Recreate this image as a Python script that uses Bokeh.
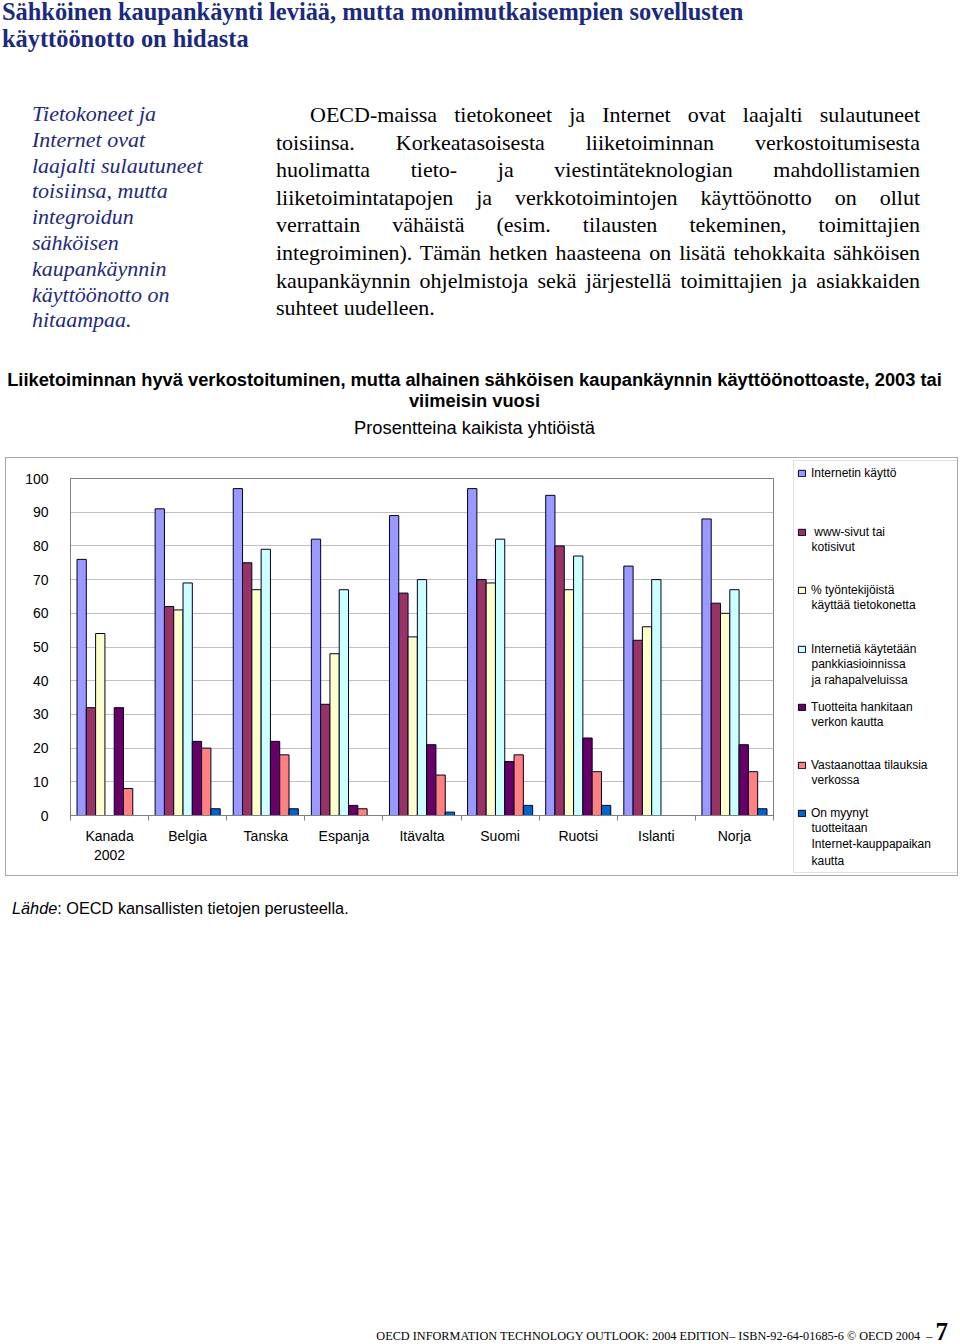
from bokeh.plotting import figure
from bokeh.models import (ColumnDataSource, Legend, LegendItem, FixedTicker, Div, Range1d,
                          Label, BoxAnnotation)
from bokeh.layouts import column, row
from bokeh.transform import dodge
from bokeh.embed import file_html
from bokeh.resources import INLINE

# ---------------- data ----------------
countries = ["Kanada\n2002", "Belgia", "Tanska", "Espanja", "Itävalta",
             "Suomi", "Ruotsi", "Islanti", "Norja"]
series_names = [
    ["Internetin käyttö"],
    [" www-sivut tai", "kotisivut"],
    ["% työntekijöistä", "käyttää tietokonetta"],
    ["Internetiä käytetään", "pankkiasioinnissa", "ja rahapalveluissa"],
    ["Tuotteita hankitaan", "verkon kautta"],
    ["Vastaanottaa tilauksia", "verkossa"],
    ["On myynyt", "tuotteitaan", "Internet-kauppapaikan", "kautta"],
]
internet_use = [76, 91, 97, 82, 89, 97, 95, 74, 88]
web_pages = [32, 62, 75, 33, 66, 70, 80, 52, 63]
employees_pc = [54, 61, 67, 48, 53, 69, 67, 56, 60]
banking = [None, 69, 79, 67, 70, 82, 77, 70, 67]
purchases = [32, 22, 22, 3, 21, 16, 23, None, 21]
orders = [8, 20, 18, 2, 12, 18, 13, None, 13]
sold_marketplace = [None, 2, 2, None, 1, 3, 3, None, 2]
series_values = [internet_use, web_pages, employees_pc, banking,
                 purchases, orders, sold_marketplace]
colors = ["#9999FF", "#993366", "#FFFFCC", "#CCFFFF", "#660066", "#FF8080", "#0066CC"]
y_ticks = list(range(0, 101, 10))

title_lines = ["Sähköinen kaupankäynti leviää, mutta monimutkaisempien sovellusten",
               "käyttöönotto on hidasta"]
side_lines = ["Tietokoneet ja", "Internet ovat", "laajalti sulautuneet", "toisiinsa, mutta",
              "integroidun", "sähköisen", "kaupankäynnin", "käyttöönotto on", "hitaampaa."]
body_lines = [
    "OECD-maissa tietokoneet ja Internet ovat laajalti sulautuneet",
    "toisiinsa. Korkeatasoisesta liiketoiminnan verkostoitumisesta",
    "huolimatta tieto- ja viestintäteknologian mahdollistamien",
    "liiketoimintatapojen ja verkkotoimintojen käyttöönotto on ollut",
    "verrattain vähäistä (esim. tilausten tekeminen, toimittajien",
    "integroiminen). Tämän hetken haasteena on lisätä tehokkaita sähköisen",
    "kaupankäynnin ohjelmistoja sekä järjestellä toimittajien ja asiakkaiden",
    "suhteet uudelleen.",
]
chart_title = ["Liiketoiminnan hyvä verkostoituminen, mutta alhainen sähköisen kaupankäynnin käyttöönottoaste, 2003 tai",
               "viimeisin vuosi"]
chart_subtitle = "Prosentteina kaikista yhtiöistä"

# ---------------- header (page text) ----------------
serif = "'Liberation Serif', 'Times New Roman', serif"
sans = "'Liberation Sans', Arial, sans-serif"
body_html = ""
for i, ln in enumerate(body_lines):
    last = i == len(body_lines) - 1
    align = "left" if last else "justify"
    indent = "padding-left:34px;" if i == 0 else ""
    body_html += (f'<div style="text-align:{align};text-align-last:{align};{indent}'
                  f'height:27.6px;line-height:27.6px;">{ln}</div>')

title_style = (f"position:absolute;left:2px;font-family:{serif};font-weight:bold;"
               f"font-size:24.4px;line-height:24px;color:#1b2a7e;white-space:nowrap;")
header_html = f'''
<div style="position:relative;left:0px;top:0px;width:958px;height:457px;">
 <div style="{title_style}top:0px;">{title_lines[0]}</div>
 <div style="{title_style}top:27px;">{title_lines[1]}</div>
 <div style="position:absolute;left:32px;top:101px;font-family:{serif};font-style:italic;
      font-size:22px;line-height:25.8px;color:#1f2a78;white-space:nowrap;">{"<br>".join(side_lines)}</div>
 <div style="position:absolute;left:276px;top:101px;width:644px;font-family:{serif};
      font-size:22px;color:#000;">{body_html}</div>
 <div style="position:absolute;left:0px;top:369px;width:949px;text-align:center;font-family:{sans};
      font-weight:bold;font-size:18.3px;line-height:21px;color:#000;white-space:nowrap;">{chart_title[0]}<br>{chart_title[1]}</div>
 <div style="position:absolute;left:0px;top:418px;width:949px;text-align:center;font-family:{sans};
      font-size:18.3px;line-height:20px;color:#000;">{chart_subtitle}</div>
</div>'''
header = Div(text=header_html, width=958, height=457, margin=0)

# ---------------- chart ----------------
n = len(countries)
box_border = "1px solid #a8a8a8"
p = figure(width=778, height=419, x_range=Range1d(-0.5, n - 0.5), y_range=Range1d(0, 100),
           output_backend="svg", toolbar_location=None,
           min_border_left=64, min_border_right=11, min_border_top=20, min_border_bottom=62,
           outline_line_color="#808080", margin=(0, 0, 0, 5),
           styles={"border-left": box_border, "border-top": box_border,
                   "border-bottom": box_border, "box-sizing": "border-box"})

bar_w = 0.119
sources = []
for j, (vals, col) in enumerate(zip(series_values, colors)):
    xs = [i for i, v in enumerate(vals) if v is not None]
    ys = [v for v in vals if v is not None]
    src = ColumnDataSource(dict(x=xs, top=ys))
    sources.append(src)
    p.vbar(x=dodge("x", (j - 3) * bar_w, range=p.x_range), top="top", bottom=0,
           width=bar_w, source=src, fill_color=col, line_color="#000022", line_width=1)

p.ygrid.grid_line_color = "#c0c0c0"
p.xgrid.grid_line_color = None

p.yaxis.ticker = FixedTicker(ticks=y_ticks)
p.yaxis.axis_line_color = "#808080"
p.yaxis.major_tick_line_color = None
p.yaxis.minor_tick_line_color = None
p.yaxis.major_tick_out = 0
p.yaxis.major_tick_in = 0
p.yaxis.major_label_standoff = 22
p.yaxis.major_label_text_font = "Liberation Sans"
p.yaxis.major_label_text_font_size = "14px"
p.yaxis.major_label_text_color = "#000000"

p.xaxis.ticker = FixedTicker(ticks=list(range(n)), minor_ticks=[i - 0.5 for i in range(n + 1)])
p.xaxis.major_label_overrides = {i: c for i, c in enumerate(countries)}
p.xaxis.axis_line_color = "#808080"
p.xaxis.major_tick_line_color = None
p.xaxis.major_tick_out = 0
p.xaxis.major_tick_in = 0
p.xaxis.minor_tick_line_color = "#808080"
p.xaxis.minor_tick_out = 5
p.xaxis.minor_tick_in = 0
p.xaxis.major_label_standoff = 7
p.xaxis.major_label_text_font = "Liberation Sans"
p.xaxis.major_label_text_font_size = "14px"
p.xaxis.major_label_text_color = "#000000"

# ---------------- legend panel (its own figure, right part of the chart box) ----------------
lw, lh = 175, 419
leg = figure(width=lw, height=lh, x_range=Range1d(0, lw), y_range=Range1d(0, lh),
             x_axis_type=None, y_axis_type=None, output_backend="svg", toolbar_location=None,
             min_border=0, min_border_left=0, min_border_right=0, min_border_top=0,
             min_border_bottom=0, outline_line_color=None, margin=0,
             styles={"border-right": box_border, "border-top": box_border,
                     "border-bottom": box_border, "box-sizing": "border-box"})
leg.xgrid.visible = False
leg.ygrid.visible = False
try:
    leg.frame_align = False
    p.frame_align = False
except AttributeError:
    pass

panel_left_page = 783
panel_bottom_page = 458 + lh
leg.add_layout(BoxAnnotation(left=793 - panel_left_page, right=957 - panel_left_page,
                             top=panel_bottom_page - 460, bottom=panel_bottom_page - 872,
                             left_units="screen", right_units="screen",
                             top_units="screen", bottom_units="screen",
                             fill_color=None, line_color="#a0a0a0", line_width=1))

first_line_y = [473, 532, 590, 649, 707, 765, 813]   # page y of each entry's first line
glyph_x = 797 - panel_left_page
text_x = 811 - panel_left_page
for lines, col, src, cy in zip(series_names, colors, sources, first_line_y):
    # hidden twin of the series, used only for its legend swatch
    swatch = leg.vbar(x="x", top="top", width=bar_w, source=src, fill_color=col,
                      line_color="#000022", line_width=1, visible=False)
    lg = Legend(items=[LegendItem(label=lines[0], renderers=[swatch])],
                location=(glyph_x, panel_bottom_page - (cy + 10)),
                border_line_color=None, background_fill_alpha=0,
                glyph_width=9, glyph_height=8, label_height=20,
                label_text_font="Liberation Sans", label_text_font_size="12px",
                label_text_color="#000000",
                label_standoff=5, padding=0, margin=0, spacing=0)
    leg.add_layout(lg)
    if len(lines) > 1:
        leg.add_layout(Label(x=text_x, y=panel_bottom_page - (cy + 7.2), x_units="screen", y_units="screen",
                             text="\n".join(lines[1:]), text_baseline="top", text_align="left",
                             text_font="Liberation Sans", text_font_size="12px", text_color="#000000",
                             text_line_height=1.2))

chart_row = row(p, leg, spacing=0)

# ---------------- bottom texts ----------------
bottom_html = f'''
<div style="position:relative;width:958px;height:467px;">
 <div style="position:absolute;left:12px;top:22px;font-family:{sans};font-size:16.3px;line-height:20px;color:#000;
      white-space:nowrap;"><i>Lähde</i>: OECD kansallisten tietojen perusteella.</div>
 <div style="position:absolute;right:10px;bottom:0px;font-family:{serif};font-size:12.25px;line-height:14px;color:#000;
      white-space:nowrap;">OECD INFORMATION TECHNOLOGY OUTLOOK: 2004 EDITION– ISBN-92-64-01685-6 © OECD 2004 &nbsp;–
      <b style="font-size:25px;line-height:14px;">7</b></div>
</div>'''
bottom = Div(text=bottom_html, width=958, height=467, margin=0)

layout = column(header, chart_row, bottom, spacing=0)
open("out.html", "w").write(file_html(layout, INLINE))
